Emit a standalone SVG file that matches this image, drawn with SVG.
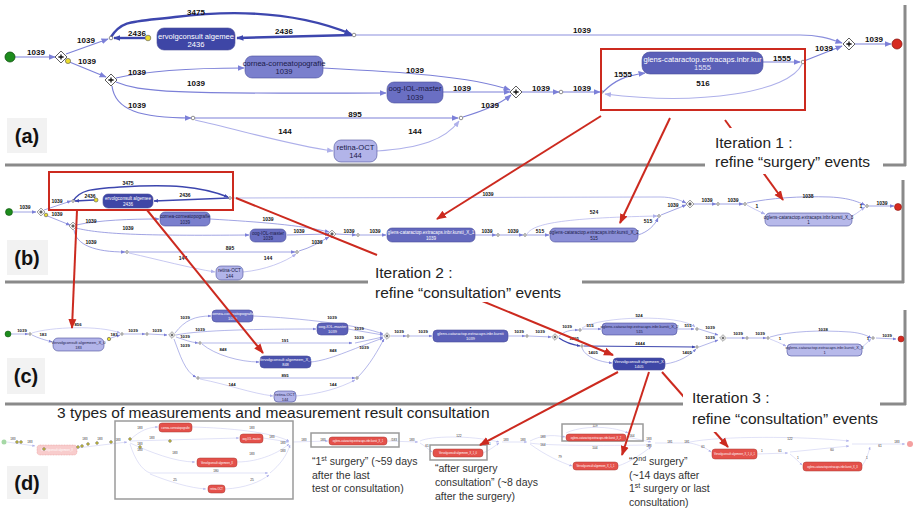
<svg xmlns="http://www.w3.org/2000/svg" width="915" height="508" viewBox="0 0 915 508">
<defs>
<style>
text{font-family:"Liberation Sans",Arial,sans-serif}
.ea{fill:none;stroke:#7c80d8;stroke-width:1.2;marker-end:url(#am)}
.el{fill:none;stroke:#aeb0ea;stroke-width:1.1;marker-end:url(#al)}
.ed{fill:none;stroke:#3d46ae;stroke-width:2.4;marker-end:url(#ad)}
.eb{fill:none;stroke:#8286da;stroke-width:.75;marker-end:url(#am)}
.ebl{fill:none;stroke:#b4b6ec;stroke-width:.75;marker-end:url(#al)}
.ebd{fill:none;stroke:#3d46ae;stroke-width:1.5;marker-end:url(#ad)}
.ec{fill:none;stroke:#8286da;stroke-width:.6;marker-end:url(#am)}
.ecl{fill:none;stroke:#b4b6ec;stroke-width:.6;marker-end:url(#al)}
.ecd{fill:none;stroke:#3d46ae;stroke-width:1.2;marker-end:url(#ad)}
.ee{fill:none;stroke:#c3c5ef;stroke-width:.5;marker-end:url(#al)}
.rr{fill:none;stroke:#cc2a1f;stroke-width:2}
.ra{fill:none;stroke:#cc2a1f;stroke-width:2;marker-end:url(#ar)}
.la{font-size:8px;font-weight:bold;fill:#111;text-anchor:middle}
.lb{font-size:5px;font-weight:bold;fill:#111;text-anchor:middle}
.lc{font-size:4.3px;font-weight:bold;fill:#111;text-anchor:middle}
.ld{font-size:3.2px;fill:#333;text-anchor:middle}
.sn{fill:#fff;stroke:#444;stroke-width:.6}
.yd{fill:#eadc2c;stroke:#555;stroke-width:.6}
.nd{stroke:#4a4f9a;stroke-width:.6}
.rn{fill:#e4514b;stroke:#a93832;stroke-width:.5}
.frame{stroke:#8a8a8a;stroke-width:3;fill:none}
.gf{stroke:#9a9a9a;stroke-width:1.5;fill:none}
.plbg{fill:#f2f2f2}
.pl{font-size:20px;font-weight:bold;fill:#111;text-anchor:middle}
.it{font-size:15.5px;fill:#222}
.an{font-size:10.5px;fill:#333}
.ta{font-size:7.6px;text-anchor:middle}
.tb{font-size:4.6px;text-anchor:middle}
.tc{font-size:4px;text-anchor:middle}
.td{font-size:2.6px;text-anchor:middle;fill:#fff}
.w{fill:#fff}
.k{fill:#1b1b48}
</style>
<marker id="am" viewBox="0 0 10 10" refX="9" refY="5" markerWidth="6" markerHeight="6" orient="auto"><path d="M0,1L10,5L0,9z" fill="#7c80d8"/></marker>
<marker id="al" viewBox="0 0 10 10" refX="9" refY="5" markerWidth="6" markerHeight="6" orient="auto"><path d="M0,1L10,5L0,9z" fill="#aeb0ea"/></marker>
<marker id="ad" viewBox="0 0 10 10" refX="9" refY="5" markerWidth="3" markerHeight="3" orient="auto"><path d="M0,1L10,5L0,9z" fill="#3d46ae"/></marker>
<marker id="ar" viewBox="0 0 10 10" refX="9" refY="5" markerWidth="5" markerHeight="5" orient="auto"><path d="M0,1L10,5L0,9z" fill="#cc2a1f"/></marker>
<g id="gw"><path d="M0,-6L6,0L0,6L-6,0Z" fill="#fff" stroke="#333" stroke-width=".8"/><path d="M-2.6,0H2.6M0,-2.6V2.6" stroke="#111" stroke-width="1.3"/></g>
</defs>
<rect width="915" height="508" fill="#fff"/>

<!-- frames -->
<g id="frames">
<path class="frame" d="M5,165H906M905,5V166"/>
<path class="frame" d="M5,282H904M903,180V283"/>
<path class="frame" d="M5,404H906M905,310V405"/>
<rect class="plbg" x="7" y="118" width="40" height="35"/>
<text class="pl" x="27" y="143">(a)</text>
<rect class="plbg" x="7" y="240" width="41" height="35"/>
<text class="pl" x="27" y="265">(b)</text>
<rect class="plbg" x="7" y="358" width="38" height="36"/>
<text class="pl" x="26" y="383">(c)</text>
<rect class="plbg" x="7" y="466" width="41" height="33"/>
<text class="pl" x="27" y="490">(d)</text>
</g>

<g id="connectors">
<!-- panel a -->
<path class="ea" d="M15,57L55,57"/>
<path class="ea" d="M66,54L108,39"/>
<path class="ea" d="M67,61L106,77"/>
<path class="ed" d="M145,38L114,38"/>
<path class="ed" d="M352,35L237,38"/>
<path class="ed" d="M111,37C122,20 132,22 175,17C240,9 300,13 351,34"/>
<path class="ea" style="stroke:#8c90dd" d="M356,35L800,35C820,35 830,39 842,43"/>
<path class="ea" d="M116,78C150,70 200,68 244,68"/>
<path class="ea" d="M116,82C140,92 170,94 386,93"/>
<path class="ea" d="M112,86C115,110 140,118 191,118"/>
<path class="ea" d="M323,68C400,72 470,76 510,90"/>
<path class="ea" d="M443,92L510,92"/>
<path class="ea" d="M195,118L458,118"/>
<path class="el" d="M195,120C240,130 290,145 333,151"/>
<path class="el" d="M377,151C420,148 445,140 459,121"/>
<path class="ea" d="M463,117C480,112 498,106 511,95"/>
<path class="ea" d="M522,92L559,92"/>
<path class="ea" d="M563,92L600,92"/>
<path class="ea" d="M603,92C615,80 625,76 645,73"/>
<path class="ea" d="M763,62L800,62"/>
<path class="el" d="M802,64C790,92 700,106 605,94"/>
<path class="ea" d="M804,61L842,46"/>
<path class="ea" d="M855,44L891,44"/>
<g>
<text class="la" x="36" y="55">1039</text><text class="la" x="86" y="43">1039</text><text class="la" x="87" y="64">1039</text>
<text class="la" x="137" y="36">2436</text><text class="la" x="284" y="34">2436</text><text class="la" x="196" y="15">3475</text>
<text class="la" x="582" y="33">1039</text><text class="la" x="137" y="75">1039</text><text class="la" x="196" y="86">1039</text>
<text class="la" x="137" y="108">1039</text><text class="la" x="415" y="73">1039</text><text class="la" x="462" y="91">1039</text>
<text class="la" x="355" y="117">895</text><text class="la" x="285" y="134">144</text><text class="la" x="415" y="134">144</text>
<text class="la" x="490" y="108">1039</text><text class="la" x="541" y="91">1039</text><text class="la" x="582" y="91">1039</text>
<text class="la" x="623" y="77">1555</text><text class="la" x="782" y="61">1555</text><text class="la" x="703" y="86">516</text>
<text class="la" x="824" y="51">1039</text><text class="la" x="874" y="42">1039</text>
</g>

<!-- panel b -->
<path class="eb" d="M13,212L36,212"/>
<path class="eb" d="M44,210L71,201"/>
<path class="eb" d="M45,215L70,225"/>
<path class="ebd" d="M94,200L75,201"/>
<path class="ebd" d="M229,198L154,201"/>
<path class="ebd" d="M73,201C80,190 90,189 120,187C170,184 200,186 228,197"/>
<path class="eb" style="stroke:#9a9ee2" d="M232,198L660,197C672,197 680,200 686,203"/>
<path class="eb" d="M76,225C100,220 130,219 159,219"/>
<path class="eb" d="M76,228C100,234 140,236 249,235"/>
<path class="eb" d="M74,230C76,245 95,252 125,252"/>
<path class="eb" d="M210,219C260,222 300,225 329,232"/>
<path class="eb" d="M287,235L329,234"/>
<path class="eb" d="M129,252L295,252"/>
<path class="ebl" d="M129,253C160,260 190,268 215,272"/>
<path class="ebl" d="M243,272C265,270 285,262 296,254"/>
<path class="eb" d="M299,251C310,248 320,242 329,237"/>
<path class="eb" d="M336,234L356,235"/>
<path class="eb" d="M360,235L386,235"/>
<path class="eb" d="M475,235L496,235"/>
<path class="eb" d="M500,235L523,235"/>
<path class="eb" d="M527,235L549,235"/>
<path class="ebl" d="M527,234C533,224 560,218 657,216"/>
<path class="eb" d="M638,235C648,232 655,225 658,218"/>
<path class="eb" d="M661,215L686,205"/>
<path class="eb" d="M694,204L716,204"/>
<path class="eb" d="M720,204L743,204"/>
<path class="eb" d="M747,203C770,198 800,196 830,197C850,198 858,202 865,205"/>
<path class="ebl" d="M747,205C752,208 758,211 765,214"/>
<path class="ebl" d="M852,216C858,213 862,209 865,207"/>
<path class="eb" d="M869,206L894,206"/>
<g>
<text class="lb" x="25" y="209">1039</text><text class="lb" x="57" y="203">1039</text><text class="lb" x="57" y="216">1039</text>
<text class="lb" x="90" y="198">2436</text><text class="lb" x="185" y="197">2436</text><text class="lb" x="128" y="185">3475</text>
<text class="lb" x="488" y="196">1039</text><text class="lb" x="91" y="223">1039</text><text class="lb" x="128" y="230">1039</text>
<text class="lb" x="91" y="244">1039</text><text class="lb" x="268" y="221">1039</text><text class="lb" x="299" y="233">1039</text>
<text class="lb" x="230" y="250">895</text><text class="lb" x="183" y="260">144</text><text class="lb" x="268" y="260">144</text>
<text class="lb" x="317" y="244">1039</text><text class="lb" x="349" y="233">1039</text><text class="lb" x="375" y="233">1039</text>
<text class="lb" x="487" y="233">1039</text><text class="lb" x="513" y="233">1039</text><text class="lb" x="540" y="233">515</text>
<text class="lb" x="594" y="214">524</text><text class="lb" x="648" y="223">515</text><text class="lb" x="673" y="207">1039</text>
<text class="lb" x="707" y="202">1039</text><text class="lb" x="733" y="202">1039</text><text class="lb" x="808" y="198">1038</text>
<text class="lb" x="757" y="208">1</text><text class="lb" x="861" y="208">1</text><text class="lb" x="882" y="205">1039</text>
</g>

<!-- panel c -->
<path class="ec" d="M11,334L28,334"/>
<path class="ecl" d="M32,333C50,327 100,325 120,333"/>
<path class="ec" d="M32,335C38,338 45,340 52,342"/>
<path class="ec" d="M111,338L120,335"/>
<path class="ec" d="M124,334L145,334"/>
<path class="ec" d="M149,334L167,335"/>
<path class="ec" d="M175,333C185,320 195,316 211,316"/>
<path class="ec" d="M176,335C200,330 260,329 316,329"/>
<path class="ec" d="M176,337C185,340 190,342 198,343"/>
<path class="ec" d="M202,343L352,343"/>
<path class="ec" d="M202,344C215,355 240,362 259,362"/>
<path class="ec" d="M174,339C180,355 185,372 196,377"/>
<path class="ec" d="M200,378L355,378"/>
<path class="ecl" d="M200,379C230,385 250,393 273,396"/>
<path class="ecl" d="M296,396C320,394 340,388 355,380"/>
<path class="ec" d="M253,316C300,318 360,325 383,334"/>
<path class="ec" d="M348,329L383,335"/>
<path class="ec" d="M355,343L383,337"/>
<path class="ec" d="M311,362C330,360 350,350 383,338"/>
<path class="ec" d="M357,378C370,365 378,350 384,339"/>
<path class="ec" d="M391,336L406,336"/>
<path class="ec" d="M410,336L432,336"/>
<path class="ec" d="M508,336L525,336"/>
<path class="ec" d="M529,336L551,337"/>
<path class="ec" d="M559,336C565,331 570,330 578,330"/>
<path class="ec" d="M582,329L601,329"/>
<path class="ecl" d="M582,328C600,316 680,314 695,327"/>
<path class="ec" d="M677,329L694,329"/>
<path class="ec" d="M699,329L718,335"/>
<path class="ecd" d="M559,338C566,343 574,345 580,346"/>
<path class="ecd" d="M584,346L695,347"/>
<path class="ec" d="M582,348C585,357 600,362 612,363"/>
<path class="ec" d="M665,364C680,362 690,355 696,349"/>
<path class="ec" d="M699,347L718,340"/>
<path class="ec" d="M727,338L745,338"/>
<path class="ec" d="M749,338L766,338"/>
<path class="ec" d="M770,337C790,331 820,330 850,332C862,333 868,336 871,338"/>
<path class="ecl" d="M770,339C775,341 780,343 786,346"/>
<path class="ecl" d="M862,347C866,344 869,341 871,339"/>
<path class="ec" d="M876,338L896,339"/>
<g>
<text class="lc" x="22" y="332">1039</text><text class="lc" x="78" y="326">856</text><text class="lc" x="43" y="336">183</text>
<text class="lc" x="114" y="336">183</text><text class="lc" x="133" y="332">1039</text><text class="lc" x="157" y="332">1039</text>
<text class="lc" x="185" y="319">1039</text><text class="lc" x="200" y="331">1039</text><text class="lc" x="185" y="338">1039</text>
<text class="lc" x="285" y="342">191</text><text class="lc" x="223" y="351">848</text><text class="lc" x="185" y="347">1039</text>
<text class="lc" x="285" y="377">895</text><text class="lc" x="232" y="386">144</text><text class="lc" x="333" y="386">144</text>
<text class="lc" x="332" y="319">1039</text><text class="lc" x="359" y="330">1039</text><text class="lc" x="359" y="339">1039</text>
<text class="lc" x="333" y="352">848</text><text class="lc" x="364" y="349">1039</text>
<text class="lc" x="399" y="333">1039</text><text class="lc" x="423" y="333">1039</text><text class="lc" x="519" y="333">1039</text>
<text class="lc" x="540" y="333">1039</text><text class="lc" x="567" y="328">1039</text><text class="lc" x="590" y="327">515</text>
<text class="lc" x="639" y="317">524</text><text class="lc" x="688" y="327">515</text><text class="lc" x="710" y="329">1039</text>
<text class="lc" x="574" y="340">1405</text><text class="lc" x="640" y="345">2444</text><text class="lc" x="593" y="354">1405</text>
<text class="lc" x="687" y="354">1405</text><text class="lc" x="710" y="339">1039</text><text class="lc" x="738" y="335">1039</text>
<text class="lc" x="760" y="335">1039</text><text class="lc" x="823" y="331">1038</text><text class="lc" x="780" y="340">1</text>
<text class="lc" x="868" y="340">1</text><text class="lc" x="887" y="337">1039</text>
</g>

<!-- panel d -->
<path class="ee" d="M7,442L35,446"/>
<path class="ee" d="M77,448L127,442"/>
<path class="ee" d="M130,440C140,430 150,427 158,427"/>
<path class="ee" d="M130,441L239,438"/>
<path class="ee" d="M130,443C150,452 175,462 195,462"/>
<path class="ee" d="M130,444C135,460 142,470 150,473L268,473"/>
<path class="ee" d="M150,474C170,482 190,488 206,489"/>
<path class="ee" d="M225,489C245,488 260,482 269,475"/>
<path class="ee" d="M192,427C230,428 270,432 289,441"/>
<path class="ee" d="M263,438L289,442"/>
<path class="ee" d="M237,462C260,462 280,452 289,444"/>
<path class="ee" d="M270,473C280,465 287,455 290,445"/>
<path class="ee" d="M293,442L328,441"/>
<path class="ee" d="M387,441L418,442"/>
<path class="ee" d="M420,441C430,436 470,435 499,442"/>
<path class="ee" d="M420,443C425,446 428,449 432,452"/>
<path class="ee" d="M483,453C490,450 495,446 499,443"/>
<path class="ee" d="M502,442L527,442"/>
<path class="ee" d="M530,441C540,436 550,434 565,437"/>
<path class="ee" d="M530,443C540,445 580,446 651,445"/>
<path class="ee" d="M530,444C545,455 560,462 572,466"/>
<path class="ee" d="M566,433C580,426 610,425 628,433"/>
<path class="ee" d="M627,437L651,442"/>
<path class="ee" d="M618,466C630,462 640,455 651,447"/>
<path class="ee" d="M655,443L690,443C700,445 706,448 711,452"/>
<path class="ee" d="M690,442C720,436 800,436 849,441"/>
<path class="ee" d="M757,454L788,453"/>
<path class="ee" d="M790,452L849,446"/>
<path class="ee" d="M790,454C795,458 799,462 802,465"/>
<path class="ee" d="M862,466C866,460 868,455 870,447"/>
<path class="ee" d="M852,444L905,444"/>
<g>
<text class="ld" x="13" y="440">183</text><text class="ld" x="30" y="443">183</text><text class="ld" x="85" y="440">183</text>
<text class="ld" x="100" y="440">183</text><text class="ld" x="118" y="441">183</text><text class="ld" x="140" y="429">183</text>
<text class="ld" x="152" y="439">183</text><text class="ld" x="140" y="445">183</text><text class="ld" x="140" y="451">183</text>
<text class="ld" x="175" y="454">183</text><text class="ld" x="216" y="472">180</text><text class="ld" x="175" y="481">25</text>
<text class="ld" x="252" y="481">25</text><text class="ld" x="252" y="429">183</text><text class="ld" x="272" y="438">183</text>
<text class="ld" x="283" y="444">183</text><text class="ld" x="283" y="452">183</text><text class="ld" x="252" y="455">183</text>
<text class="ld" x="304" y="441">183</text><text class="ld" x="323" y="441">183</text><text class="ld" x="394" y="441">/183</text>
<text class="ld" x="412" y="441">183</text><text class="ld" x="459" y="437">122</text><text class="ld" x="427" y="447">61</text>
<text class="ld" x="489" y="445">61</text><text class="ld" x="506" y="441">183</text><text class="ld" x="523" y="441">183</text>
<text class="ld" x="543" y="438">183</text><text class="ld" x="543" y="446">164</text><text class="ld" x="560" y="458">79</text>
<text class="ld" x="595" y="427">119</text><text class="ld" x="595" y="449">104</text><text class="ld" x="632" y="437">164</text>
<text class="ld" x="649" y="440">183</text><text class="ld" x="649" y="447">183</text><text class="ld" x="670" y="443">181</text>
<text class="ld" x="687" y="443">181</text><text class="ld" x="703" y="448">61</text><text class="ld" x="790" y="440">122</text>
<text class="ld" x="762" y="452">1</text><text class="ld" x="780" y="452">61</text><text class="ld" x="832" y="451">60</text>
<text class="ld" x="798" y="459">1</text><text class="ld" x="867" y="459">1</text><text class="ld" x="880" y="447">61</text>
<text class="ld" x="897" y="443">183</text>
</g>
</g>

<!-- nodes panel a -->
<g id="a-start"><circle cx="10" cy="57" r="5" fill="#1d8c1d" stroke="#0c4f0c" stroke-width=".8"/></g>
<g id="a-gw1"><use href="#gw" transform="translate(61,57)"/><circle class="yd" cx="68" cy="61" r="2.6"/></g>
<g id="a-n1"><circle class="sn" cx="111" cy="38" r="1.8"/><circle class="yd" cx="148" cy="38" r="2.8"/></g>
<g id="a-vervolg"><rect class="nd" x="157" y="28" width="78" height="22" rx="7" fill="#3e46a6"/><text class="ta w" x="196" y="38.5">ervolgconsult algemee</text><text class="ta w" x="196" y="47">2436</text></g>
<g id="a-n2"><circle class="sn" cx="354" cy="35" r="1.8"/></g>
<g id="a-gw2"><use href="#gw" transform="translate(111,80)"/></g>
<g id="a-cornea"><rect class="nd" x="245" y="56" width="78" height="22" rx="7" fill="#7a7fcd"/><text class="ta k" x="284" y="65.5">cornea-corneatopografie</text><text class="ta k" x="284" y="74">1039</text></g>
<g id="a-oog"><rect class="nd" x="387" y="82" width="56" height="21" rx="7" fill="#6a6fc3"/><text class="ta k" x="415" y="91">oog-IOL-master</text><text class="ta k" x="415" y="99.5">1039</text></g>
<g id="a-n3"><circle class="sn" cx="193" cy="118" r="1.8"/></g>
<g id="a-retina"><rect class="nd" x="334" y="140" width="43" height="22" rx="7" fill="#b2b4e9"/><text class="ta k" x="355.5" y="149.5">retina-OCT</text><text class="ta k" x="355.5" y="158">144</text></g>
<g id="a-n4"><circle class="sn" cx="461" cy="118" r="1.8"/></g>
<g id="a-gw3"><use href="#gw" transform="translate(516,92)"/></g>
<g id="a-n5"><circle class="sn" cx="561" cy="92" r="1.8"/></g>
<g id="a-n6"><circle class="sn" cx="602" cy="92" r="1.2"/></g>
<g id="a-glens"><rect class="nd" x="642" y="52" width="121" height="22" rx="8" fill="#5b60b8"/><text class="ta w" x="702.5" y="61.5">glens-cataractop.extracaps.inbr.kur</text><text class="ta" x="702.5" y="70" fill="#e4e5f8">1555</text></g>
<g id="a-n7"><circle class="sn" cx="803" cy="62" r="1.8"/></g>
<g id="a-gw4"><use href="#gw" transform="translate(849,44)"/></g>
<g id="a-end"><circle cx="897" cy="44" r="5" fill="#d62a20" stroke="#8a1610" stroke-width=".8"/></g>

<!-- nodes panel b -->
<g id="b-start"><circle cx="9" cy="212" r="3.5" fill="#1d8c1d" stroke="#0c4f0c" stroke-width=".6"/></g>
<g id="b-gw1"><use href="#gw" transform="translate(41,212) scale(.65)"/><circle class="yd" cx="46" cy="215" r="1.8"/></g>
<g id="b-n1"><circle class="sn" cx="73" cy="201" r="1.3"/><circle class="yd" cx="96" cy="200" r="2"/></g>
<g id="b-vervolg"><rect class="nd" x="103" y="194" width="50" height="14" rx="5" fill="#3e46a6"/><text class="tb w" x="128" y="200">ervolgconsult algemee</text><text class="tb w" x="128" y="205.5">2436</text></g>
<g id="b-n2"><circle class="sn" cx="230" cy="198" r="1.3"/></g>
<g id="b-gw2"><use href="#gw" transform="translate(73,226) scale(.65)"/></g>
<g id="b-cornea"><rect class="nd" x="160" y="212" width="50" height="14" rx="5" fill="#7a7fcd"/><text class="tb k" x="185" y="218">cornea-corneatopografie</text><text class="tb k" x="185" y="223.5">1039</text></g>
<g id="b-oog"><rect class="nd" x="250" y="229" width="36" height="13" rx="5" fill="#6a6fc3"/><text class="tb k" x="268" y="234.5">oog-IOL-master</text><text class="tb k" x="268" y="240">1039</text></g>
<g id="b-n3"><circle class="sn" cx="127" cy="252" r="1.3"/></g>
<g id="b-retina"><rect class="nd" x="216" y="266" width="27" height="14" rx="5" fill="#b2b4e9"/><text class="tb k" x="229.5" y="272">retina-OCT</text><text class="tb k" x="229.5" y="277.5">144</text></g>
<g id="b-n4"><circle class="sn" cx="297" cy="252" r="1.3"/></g>
<g id="b-gw3"><use href="#gw" transform="translate(332,234) scale(.65)"/></g>
<g id="b-n5"><circle class="sn" cx="358" cy="235" r="1.3"/></g>
<g id="b-glens1"><rect class="nd" x="387" y="228" width="88" height="14" rx="5" fill="#6469be"/><text class="tb w" x="431" y="234">glens-cataractop.extracaps.inbr.kursti_X_1</text><text class="tb w" x="431" y="239.5">1039</text></g>
<g id="b-n6"><circle class="sn" cx="498" cy="235" r="1.3"/></g>
<g id="b-n7"><circle class="sn" cx="525" cy="235" r="1.3"/></g>
<g id="b-glens2"><rect class="nd" x="550" y="228" width="88" height="14" rx="5" fill="#8a8ed6"/><text class="tb k" x="594" y="234">oglens-cataractop.extracaps.inbr.kursti_X_2</text><text class="tb k" x="594" y="239.5">515</text></g>
<g id="b-n8"><circle class="sn" cx="659" cy="216" r="1.3"/></g>
<g id="b-gw4"><use href="#gw" transform="translate(690,204) scale(.65)"/></g>
<g id="b-n9"><circle class="sn" cx="718" cy="204" r="1.3"/></g>
<g id="b-n10"><circle class="sn" cx="745" cy="204" r="1.3"/></g>
<g id="b-glens3"><rect class="nd" x="765" y="213" width="87" height="13" rx="5" fill="#b7b9ea"/><text class="tb k" x="808.5" y="218.5">oglens-cataractop.extracaps.inbr.kursti_X_3</text><text class="tb k" x="808.5" y="224">1</text></g>
<g id="b-n11"><circle class="sn" cx="867" cy="206" r="1.3"/></g>
<g id="b-end"><circle cx="898" cy="207" r="3.5" fill="#d62a20" stroke="#8a1610" stroke-width=".6"/></g>

<!-- nodes panel c -->
<g id="c-start"><circle cx="8" cy="334" r="3" fill="#1d8c1d" stroke="#0c4f0c" stroke-width=".5"/></g>
<g id="c-n1"><circle class="sn" cx="30" cy="334" r="1.2"/></g>
<g id="c-x0"><rect class="nd" x="53" y="338" width="51" height="13" rx="5" fill="#b2b4e9"/><text class="tc k" x="78.5" y="343.5">Vervolgconsult algemeen_X_0</text><text class="tc k" x="78.5" y="348.5">183</text></g>
<g id="c-y1"><circle class="yd" cx="109" cy="339" r="1.7"/></g>
<g id="c-n2"><circle class="sn" cx="122" cy="334" r="1.2"/></g>
<g id="c-n3"><circle class="sn" cx="147" cy="334" r="1.2"/></g>
<g id="c-gw1"><use href="#gw" transform="translate(172,335) scale(.55)"/></g>
<g id="c-cornea"><rect class="nd" x="212" y="310" width="41" height="12" rx="4" fill="#6a6fc3"/><text class="tc w" x="232.5" y="315">cornea-corneatopografie</text><text class="tc w" x="232.5" y="320">1039</text></g>
<g id="c-oog"><rect class="nd" x="317" y="323" width="31" height="12" rx="4" fill="#5b60b8"/><text class="tc w" x="332.5" y="328">oog-IOL-master</text><text class="tc w" x="332.5" y="333">1039</text></g>
<g id="c-n4"><circle class="sn" cx="200" cy="343" r="1.2"/></g>
<g id="c-x1"><rect class="nd" x="260" y="356" width="51" height="12" rx="4" fill="#4a52ad"/><text class="tc w" x="285.5" y="361">Vervolgconsult algemeen_X_1</text><text class="tc w" x="285.5" y="366">848</text></g>
<g id="c-n5"><circle class="sn" cx="198" cy="378" r="1.2"/></g>
<g id="c-retina"><rect class="nd" x="274" y="391" width="22" height="11" rx="4" fill="#b2b4e9"/><text class="tc k" x="285" y="395.5">retina-OCT</text><text class="tc k" x="285" y="400.5">144</text></g>
<g id="c-n6"><circle class="sn" cx="357" cy="378" r="1.2"/></g>
<g id="c-gw2"><use href="#gw" transform="translate(387,336) scale(.55)"/></g>
<g id="c-n7"><circle class="sn" cx="408" cy="336" r="1.2"/></g>
<g id="c-glens1"><rect class="nd" x="433" y="330" width="75" height="12" rx="4" fill="#5b60b8"/><text class="tc w" x="470.5" y="335">glens-cataractop.extracaps.inbr.kursti</text><text class="tc w" x="470.5" y="340">1039</text></g>
<g id="c-n8"><circle class="sn" cx="527" cy="336" r="1.2"/></g>
<g id="c-gw3"><use href="#gw" transform="translate(555,337) scale(.55)"/></g>
<g id="c-n9"><circle class="sn" cx="580" cy="330" r="1.2"/></g>
<g id="c-n10"><circle class="sn" cx="582" cy="346" r="1.2"/></g>
<g id="c-glens2"><rect class="nd" x="602" y="323" width="75" height="12" rx="4" fill="#8a8ed6"/><text class="tc k" x="639.5" y="328">oglens-cataractop.extracaps.inbr.kursti_X_2</text><text class="tc k" x="639.5" y="333">515</text></g>
<g id="c-x"><rect class="nd" x="613" y="358" width="52" height="12" rx="4" fill="#3e46a6"/><text class="tc w" x="639" y="363">Vervolgconsult algemeen_X</text><text class="tc w" x="639" y="368">1405</text></g>
<g id="c-n11"><circle class="sn" cx="697" cy="329" r="1.2"/></g>
<g id="c-n12"><circle class="sn" cx="697" cy="347" r="1.2"/></g>
<g id="c-gw4"><use href="#gw" transform="translate(723,338) scale(.55)"/></g>
<g id="c-n13"><circle class="sn" cx="747" cy="338" r="1.2"/></g>
<g id="c-n14"><circle class="sn" cx="768" cy="338" r="1.2"/></g>
<g id="c-glens3"><rect class="nd" x="787" y="344" width="75" height="12" rx="4" fill="#b7b9ea"/><text class="tc k" x="824.5" y="349">oglens-cataractop.extracaps.inbr.kursti_X_3</text><text class="tc k" x="824.5" y="354">1</text></g>
<g id="c-n15"><circle class="sn" cx="873" cy="338" r="1.2"/></g>
<g id="c-end"><circle cx="901" cy="339" r="3" fill="#d62a20" stroke="#8a1610" stroke-width=".5"/></g>

<!-- nodes panel d -->
<g id="d-start"><circle cx="4" cy="442" r="2.5" fill="#a6d8a6"/></g>
<g id="d-dots1"><circle class="yd" cx="17" cy="442" r="1.3"/><circle class="yd" cx="21" cy="442" r="1.3"/></g>
<g id="d-x"><rect x="37" y="445" width="40" height="10" rx="3" fill="#f8cccc" stroke="#e89a9a" stroke-width=".5" stroke-dasharray="1 .6"/><text class="td" x="57" y="450.5" fill="#c77">Vervolgconsult algemeen_X</text><circle class="yd" cx="44" cy="449" r="1.3"/></g>
<g id="d-dots2"><circle class="yd" cx="78" cy="447" r="1.3"/><circle class="yd" cx="82" cy="446" r="1.3"/><circle class="yd" cx="88" cy="444" r="1.3"/><circle class="yd" cx="97" cy="443" r="1.3"/><circle class="yd" cx="111" cy="442" r="1.3"/><circle class="yd" cx="130" cy="439" r="1.3"/><circle class="yd" cx="140" cy="447" r="1.3"/><circle class="yd" cx="170" cy="441" r="1.3"/></g>
<g id="d-frame1"><rect class="gf" x="115" y="421" width="178" height="78"/></g>
<g id="d-cornea"><rect class="rn" x="159" y="423" width="33" height="9" rx="3"/><text class="td" x="175.5" y="428.5">cornea-corneatopografie</text></g>
<g id="d-oog"><rect class="rn" x="240" y="434" width="23" height="9" rx="3"/><text class="td" x="251.5" y="439.5">oog-IOL-master</text></g>
<g id="d-vervolg"><rect class="rn" x="197" y="458" width="40" height="9" rx="3"/><text class="td" x="217" y="463.5">Vervolgconsult algemeen_X</text></g>
<g id="d-retina"><rect class="rn" x="208" y="485" width="17" height="8" rx="3"/><text class="td" x="216.5" y="490">retina-OCT</text></g>
<g id="d-frame2"><rect class="gf" x="311" y="433" width="88" height="14"/><rect class="rn" x="329" y="437" width="58" height="8" rx="3"/><text class="td" x="358" y="442">oglens-cataractop.extracaps.inbr.kursti_X_1</text></g>
<g id="d-frame3"><rect class="gf" x="430" y="445" width="57" height="15"/><rect class="rn" x="433" y="449" width="50" height="8" rx="3"/><text class="td" x="458" y="454">Vervolgconsult algemeen_X_1_0</text></g>
<g id="d-frame4"><rect class="gf" x="562" y="424" width="81" height="17"/><rect class="rn" x="566" y="434" width="60" height="7" rx="3"/><text class="td" x="596" y="438.5">oglens-cataractop.extracaps.inbr.kursti_X_2</text></g>
<g id="d-x11"><rect class="rn" x="573" y="462" width="45" height="8" rx="3"/><text class="td" x="595.5" y="467">Vervolgconsult algemeen_X_1_1</text></g>
<g id="d-x101"><rect class="rn" x="712" y="449" width="45" height="10" rx="3"/><text class="td" x="734.5" y="455">Vervolgconsult algemeen_X_1_0_1</text></g>
<g id="d-glens3"><rect class="rn" x="803" y="462" width="59" height="9" rx="3"/><text class="td" x="832.5" y="467.5">oglens-cataractop.extracaps.inbr.kursti_X_3</text></g>
<g id="d-end"><circle cx="910" cy="444" r="3" fill="#f4a0a0"/></g>

<!-- red highlights and arrows -->
<g id="highlights">
<rect class="rr" x="601" y="49" width="204" height="61"/>
<rect class="rr" x="49" y="172" width="184" height="38"/>
<path class="ra" d="M725,120L783,200"/>
<path class="ra" d="M601,116L437,219"/>
<path class="ra" d="M670,118L620,223"/>
<path class="ra" d="M77,210L72,328"/>
<path class="ra" d="M147,210L263,353"/>
<path class="rr" d="M236,198L377,255"/>
<path class="ra" d="M470,296L613,355"/>
<path class="ra" d="M618,372L480,445"/>
<path class="ra" d="M649,372L622,455"/>
<path class="ra" d="M662,372L728,447"/>
</g>

<!-- annotations -->
<g id="iter1"><rect x="705" y="128" width="178" height="46" fill="#fff"/><text class="it" x="715" y="148">Iteration 1 :</text><text class="it" x="715" y="167">refine “surgery” events</text></g>
<g id="iter2"><rect x="368" y="258" width="214" height="44" fill="#fff"/><text class="it" x="375" y="278">Iteration 2 :</text><text class="it" x="375" y="298">refine “consultation” events</text></g>
<g id="iter3"><rect x="683" y="380" width="197" height="52" fill="#fff"/><text class="it" x="692" y="403">Iteration 3 :</text><text class="it" x="692" y="424">refine “consultation” events</text></g>
<g id="title-d"><text class="it" x="57" y="418">3 types of measurements and measurement result consultation</text></g>
<g id="note1"><text class="an" x="312" y="465">“1<tspan dy="-4" font-size="7">st</tspan><tspan dy="4"> surgery” (~59 days</tspan></text><text class="an" x="312" y="479">after the last</text><text class="an" x="312" y="492">test or consultation)</text></g>
<g id="note2"><text class="an" x="435" y="472">“after surgery</text><text class="an" x="435" y="486">consultation” (~8 days</text><text class="an" x="435" y="500">after the surgery)</text></g>
<g id="note3"><text class="an" x="629" y="465">“2<tspan dy="-4" font-size="7">nd</tspan><tspan dy="4"> surgery”</tspan></text><text class="an" x="629" y="479">(~14 days after</text><text class="an" x="629" y="492">1<tspan dy="-4" font-size="7">st</tspan><tspan dy="4"> surgery or last</tspan></text><text class="an" x="629" y="506">consultation)</text></g>
</svg>
